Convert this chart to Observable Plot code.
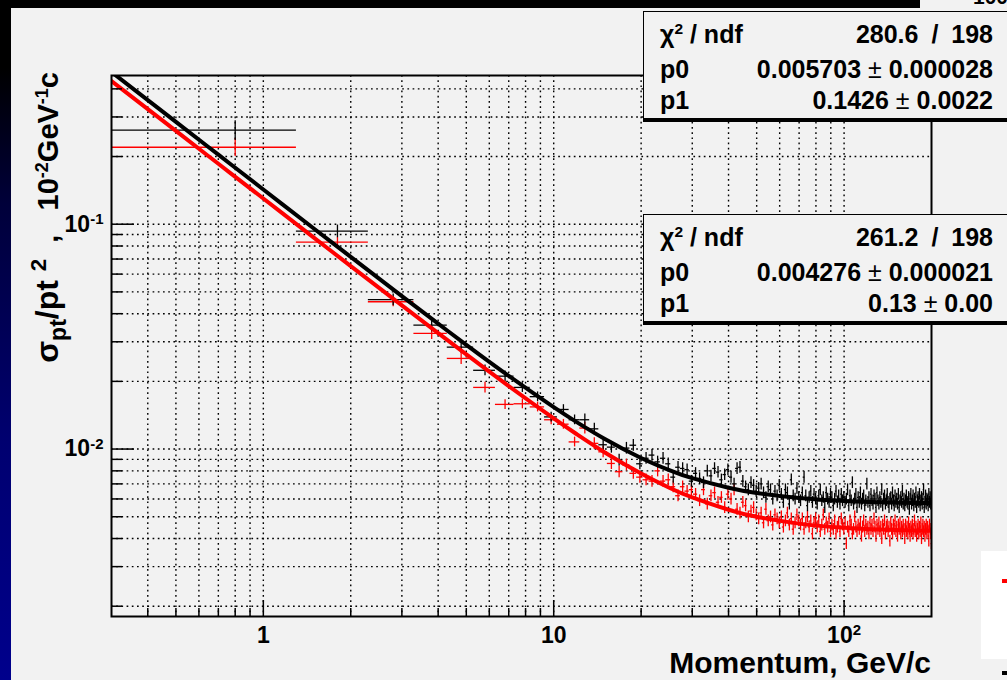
<!DOCTYPE html>
<html><head><meta charset="utf-8">
<script src="https://cdn.jsdelivr.net/npm/d3@7"></script>
<script src="https://cdn.jsdelivr.net/npm/@observablehq/plot@0.6"></script>
<style>
html,body{margin:0;padding:0;}
body{width:1007px;height:680px;overflow:hidden;position:relative;background:#f2f2f2;font-family:"Liberation Sans",Arial,Helvetica,sans-serif;font-weight:bold;color:#000;}
#leftbar{position:absolute;left:0;top:0;width:11px;height:680px;background:linear-gradient(#000 0%,#000 10%,#00003a 30%,#000070 65%,#00008c 100%);}
#topbar{position:absolute;left:0;top:0;width:920px;height:8px;background:#000;}
#cut{position:absolute;left:973px;top:-14px;font-size:21px;line-height:21px;}
#chart{position:absolute;left:0;top:0;}
#chart svg text.lbl{font-size:23px !important;font-weight:bold !important;font-family:"Liberation Sans",Arial,sans-serif !important;fill:#000;}
#chart svg text.lbl tspan{font-size:15px !important;}
.stat{position:absolute;left:643px;width:420px;background:#f2f2f2;border:1px solid #000;box-shadow:0 3px 0 #000;}
.stat .lab{position:absolute;left:16px;font-size:25px;line-height:25px;white-space:nowrap;}
.stat .val{position:absolute;left:0;width:349px;text-align:right;font-size:25px;line-height:25px;white-space:nowrap;}
.pm{font-weight:normal;}
.sl{word-spacing:6px;}
sup{font-size:62%;vertical-align:0.55em;line-height:0;}
sub{font-size:72%;vertical-align:-0.35em;line-height:0;}
#xtitle{position:absolute;right:76px;top:652px;font-size:30px;line-height:22px;white-space:nowrap;}
#ytitle{position:absolute;left:30px;top:72px;font-size:29px;line-height:34px;white-space:nowrap;transform-origin:0 0;transform:rotate(-90deg) translateX(-100%);}
#ytitle .big sup{font-size:70%;}
#legendbox{position:absolute;left:981px;top:551px;width:40px;height:108px;background:#fff;}
#legred{position:absolute;left:1002px;top:579px;width:10px;height:4px;background:#f00;}
#legblack{position:absolute;left:1002px;top:671px;width:10px;height:4px;background:#000;}
</style>
</head><body>
<div id="leftbar"></div>
<div id="topbar"></div>
<div id="cut">100</div>
<div id="legendbox"></div>
<div id="legred"></div>
<div id="legblack"></div>
<div id="chart"></div>

<div class="stat" style="top:11px;height:106px;">
  <div class="lab" style="top:10px;">&chi;<sup>2</sup> / ndf</div>
  <div class="val sl" style="top:10px;">280.6 / 198</div>
  <div class="lab" style="top:45px;">p0</div>
  <div class="val" style="top:45px;">0.005703<span class="pm"> &plusmn; </span>0.000028</div>
  <div class="lab" style="top:76px;">p1</div>
  <div class="val" style="top:76px;">0.1426<span class="pm"> &plusmn; </span>0.0022</div>
</div>
<div class="stat" style="top:214px;height:106px;">
  <div class="lab" style="top:10px;">&chi;<sup>2</sup> / ndf</div>
  <div class="val sl" style="top:10px;">261.2 / 198</div>
  <div class="lab" style="top:45px;">p0</div>
  <div class="val" style="top:45px;">0.004276<span class="pm"> &plusmn; </span>0.000021</div>
  <div class="lab" style="top:76px;">p1</div>
  <div class="val" style="top:76px;">0.13<span class="pm"> &plusmn; </span>0.00</div>
</div>

<div id="xtitle">Momentum, GeV/c</div>
<div id="ytitle"><span class="big" style="font-size:32px;">&sigma;<sub>pt</sub>/pt <sup>2</sup></span>&nbsp;&nbsp;,&nbsp;&nbsp;&nbsp;10<sup>-2</sup>GeV<sup>-1</sup>c</div>

<script>
// ---- histogram binning (1 GeV/c bins) ----
const binStart = 0.3;
const binWidth = 1.0;

// ---- black histogram: sigma_pt/pt^2 per bin (bin centres 0.8 ... 199.8) ----
const blackValues = [
  0.262, 0.0931, 0.0462, 0.0356, 0.0284, 0.0224, 0.0211, 0.0188, 0.0171, 0.0139,
  0.0150, 0.0135, 0.0135, 0.0123, 0.01045, 0.0102, 0.00895, 0.0101, 0.0104, 0.0086,
  0.0091, 0.0094, 0.00877, 0.0091, 0.0086, 0.0075, 0.0083, 0.0082, 0.0081, 0.0072,
  0.0078, 0.0074, 0.0071, 0.0080, 0.0076, 0.0082, 0.0079, 0.0073, 0.0077, 0.0081,
  0.0075, 0.0070, 0.0082, 0.0083, 0.0072, 0.0068, 0.0066, 0.0071, 0.0069, 0.0065,
  0.0067, 0.0070, 0.0064, 0.0061, 0.0068, 0.0066, 0.0060, 0.0065, 0.0062, 0.0069,
  0.0063, 0.0058, 0.0066, 0.0064, 0.0057, 0.0073, 0.0062, 0.0060, 0.0067, 0.0061,
  0.0059, 0.0064, 0.0075, 0.0062, 0.0056, 0.0061, 0.0065, 0.0058, 0.0063, 0.0060,
  0.0057, 0.0062, 0.0066, 0.0059, 0.0061, 0.0055, 0.0064, 0.0060, 0.0058, 0.0063,
  0.0061, 0.0056, 0.0060, 0.0065, 0.0058, 0.0062, 0.0057, 0.0063, 0.0059, 0.0061,
  0.0058, 0.0060, 0.0066, 0.0056, 0.0062, 0.0059, 0.0071, 0.0057, 0.0060, 0.0063,
  0.0055, 0.0061, 0.0058, 0.0064, 0.0057, 0.0060, 0.0062, 0.0056, 0.0059, 0.0070,
  0.0058, 0.0061, 0.0056, 0.0063, 0.0059, 0.0057, 0.0062, 0.0060, 0.0055, 0.0064,
  0.0059, 0.0057, 0.0061, 0.0058, 0.0066, 0.0056, 0.0060, 0.0062, 0.0057, 0.0059,
  0.0063, 0.0058, 0.0055, 0.0060, 0.0061, 0.0057, 0.0064, 0.0059, 0.0056, 0.0062,
  0.0058, 0.0060, 0.0057, 0.0063, 0.0055, 0.0059, 0.0061, 0.0058, 0.0065, 0.0057,
  0.0060, 0.0056, 0.0059, 0.0062, 0.0058, 0.0057, 0.0061, 0.0054, 0.0060, 0.0063,
  0.0057, 0.0059, 0.0062, 0.0056, 0.0060, 0.0058, 0.0064, 0.0055, 0.0059, 0.0061,
  0.0058, 0.0063, 0.0056, 0.0059, 0.0061, 0.0057, 0.0060, 0.0066, 0.0055, 0.0058,
  0.0062, 0.0057, 0.0060, 0.0059, 0.0056, 0.0063, 0.0058, 0.0061, 0.0057, 0.0060
];

// ---- red histogram ----
const redValues = [
  0.220, 0.0832, 0.0452, 0.0327, 0.0253, 0.0188, 0.0158, 0.0159, 0.0154, 0.0135,
  0.0129, 0.01076, 0.0124, 0.0106, 0.00972, 0.00863, 0.00793, 0.0085, 0.0078, 0.0075,
  0.0073, 0.0072, 0.0080, 0.0072, 0.0073, 0.0068, 0.0062, 0.0068, 0.0065, 0.0066,
  0.0063, 0.0059, 0.0066, 0.0057, 0.0062, 0.0064, 0.0058, 0.0061, 0.0055, 0.0063,
  0.0060, 0.0066, 0.0054, 0.0052, 0.0058, 0.0056, 0.0050, 0.0053, 0.0055, 0.0051,
  0.0049, 0.0052, 0.0047, 0.0054, 0.0048, 0.0050, 0.0046, 0.0051, 0.0049, 0.0047,
  0.0050, 0.0045, 0.0048, 0.0052, 0.0046, 0.0049, 0.0044, 0.0047, 0.0051, 0.0048,
  0.0046, 0.0049, 0.0044, 0.0047, 0.0050, 0.0045, 0.0048, 0.0042, 0.0047, 0.0049,
  0.0045, 0.0048, 0.0043, 0.0046, 0.0051, 0.0044, 0.0047, 0.0045, 0.0049, 0.0043,
  0.0046, 0.0044, 0.0048, 0.0042, 0.0045, 0.0047, 0.0043, 0.0049, 0.0046, 0.0044,
  0.0047, 0.0038, 0.0045, 0.0043, 0.0048, 0.0046, 0.0042, 0.0044, 0.0050, 0.0045,
  0.0043, 0.0046, 0.0044, 0.0047, 0.0041, 0.0045, 0.0048, 0.0043, 0.0046, 0.0044,
  0.0045, 0.0042, 0.0047, 0.0044, 0.0046, 0.0043, 0.0049, 0.0045, 0.0041, 0.0046,
  0.0044, 0.0047, 0.0043, 0.0045, 0.0040, 0.0046, 0.0044, 0.0048, 0.0042, 0.0045,
  0.0046, 0.0043, 0.0045, 0.0039, 0.0047, 0.0044, 0.0042, 0.0046, 0.0044, 0.0048,
  0.0043, 0.0045, 0.0041, 0.0046, 0.0044, 0.0047, 0.0042, 0.0045, 0.0043, 0.0046,
  0.0044, 0.0040, 0.0046, 0.0043, 0.0045, 0.0042, 0.0047, 0.0044, 0.0041, 0.0045,
  0.0043, 0.0046, 0.0042, 0.0044, 0.0048, 0.0043, 0.0045, 0.0041, 0.0044, 0.0046,
  0.0042, 0.0045, 0.0043, 0.0047, 0.0040, 0.0044, 0.0046, 0.0043, 0.0045, 0.0041,
  0.0044, 0.0046, 0.0042, 0.0045, 0.0043, 0.0039, 0.0046, 0.0044, 0.0042, 0.0038
];

// ---- relative errors (first bins read individually, then a common level) ----
const blackRelErrFirst = [0.10, 0.065, 0.06, 0.065, 0.06, 0.055, 0.055, 0.05, 0.05, 0.05, 0.05, 0.05];
const blackRelErrRest = 0.06;
const redRelErrFirst = [0.09, 0.05, 0.05, 0.06, 0.06, 0.055, 0.05, 0.05, 0.05, 0.05, 0.05, 0.05];
const redRelErrRest = 0.06;

// ---- fit curves ----
const fitMomentum = [0.3, 0.4, 0.5, 0.7, 1, 1.5, 2, 3, 4, 5, 7, 10, 12, 15, 20, 25, 30, 40, 50, 70, 100, 150, 200];
const fitBlack = [0.4753, 0.3565, 0.2853, 0.2038, 0.1427, 0.09524, 0.07153, 0.04787, 0.0361, 0.02908, 0.02116, 0.01536, 0.01318, 0.01109, 0.00913, 0.00806, 0.00742, 0.00673, 0.00638, 0.00606, 0.00588, 0.00578, 0.00575];
const fitRed = [0.4333, 0.325, 0.26, 0.1857, 0.1301, 0.08677, 0.06514, 0.04355, 0.03278, 0.02635, 0.01906, 0.01369, 0.01165, 0.00966, 0.00778, 0.00673, 0.00609, 0.00537, 0.005, 0.00466, 0.00447, 0.00436, 0.00433];

// ---- axes ----
const xDomain = [0.3, 200];
const yDomain = [0.0018, 0.4586];
const xMajorTicks = [1, 10, 100];
const xMajorLabels = ["1", "10", "10^2"];
const xMinorTicks = [0.4,0.5,0.6,0.7,0.8,0.9,2,3,4,5,6,7,8,9,20,30,40,50,60,70,80,90];
const yMajorTicks = [0.01, 0.1];
const yMajorLabels = ["10^-2", "10^-1"];
const yMinorTicks = [0.002,0.003,0.004,0.005,0.006,0.007,0.008,0.009,0.02,0.03,0.04,0.05,0.06,0.07,0.08,0.09,0.2,0.3,0.4];

function makeBins(values, errFirst, errRest) {
  return values.map((v, i) => {
    const lo = binStart + i * binWidth;
    const hi = lo + binWidth;
    const e = i < errFirst.length ? errFirst[i] : errRest;
    return {lo, hi, p: (lo + hi) / 2, v, vlo: v * (1 - e), vhi: v * (1 + e)};
  });
}
const blackBins = makeBins(blackValues, blackRelErrFirst, blackRelErrRest);
const redBins = makeBins(redValues, redRelErrFirst, redRelErrRest);
const blackFit = fitMomentum.map((p, i) => ({p, v: fitBlack[i]}));
const redFit = fitMomentum.map((p, i) => ({p, v: fitRed[i]}));

const grid = {stroke: "#000", strokeOpacity: 1, strokeWidth: 1.4, strokeDasharray: "1.7,3.5"};
const allX = [...xMinorTicks, ...xMajorTicks];
const allY = [...yMinorTicks, ...yMajorTicks];

const chart = Plot.plot({
  width: 1007,
  height: 680,
  marginLeft: 111,
  marginRight: 76,
  marginTop: 75,
  marginBottom: 64,
  style: {background: "transparent", fontFamily: "'Liberation Sans', Arial, sans-serif", color: "#000"},
  x: {type: "log", domain: xDomain},
  y: {type: "log", domain: yDomain},
  marks: [
    Plot.gridX({ticks: allX, ...grid}),
    Plot.gridY({ticks: allY, ...grid}),
    Plot.ruleY(redBins, {y: "v", x1: "lo", x2: "hi", stroke: "#ff0000", strokeWidth: 1.3, clip: true}),
    Plot.ruleX(redBins, {x: "p", y1: "vlo", y2: "vhi", stroke: "#ff0000", strokeWidth: 1.3, clip: true}),
    Plot.ruleY(blackBins, {y: "v", x1: "lo", x2: "hi", stroke: "#000", strokeWidth: 1.3, clip: true}),
    Plot.ruleX(blackBins, {x: "p", y1: "vlo", y2: "vhi", stroke: "#000", strokeWidth: 1.3, clip: true}),
    Plot.line(redFit, {x: "p", y: "v", stroke: "#ff0000", strokeWidth: 4, curve: "natural", clip: true}),
    Plot.line(blackFit, {x: "p", y: "v", stroke: "#000", strokeWidth: 4, curve: "natural", clip: true}),
    Plot.axisX({ticks: xMinorTicks, tickSize: -8, tickFormat: () => "", label: null, stroke: "#000", strokeWidth: 1.5}),
    Plot.axisX({ticks: xMajorTicks, tickSize: -16, tickFormat: () => "", label: null, stroke: "#000", strokeWidth: 1.5}),
    Plot.axisY({ticks: yMinorTicks, tickSize: -11, tickFormat: () => "", label: null, stroke: "#000", strokeWidth: 1.5}),
    Plot.axisY({ticks: yMajorTicks, tickSize: -23, tickFormat: () => "", label: null, stroke: "#000", strokeWidth: 1.5}),
    Plot.axisX({ticks: xMajorTicks, tickSize: 0, tickPadding: 10, label: null,
      tickFormat: d => xMajorLabels[xMajorTicks.indexOf(d)]}),
    Plot.axisY({ticks: yMajorTicks, tickSize: 0, tickPadding: 8, label: null,
      tickFormat: d => yMajorLabels[yMajorTicks.indexOf(d)]}),
    Plot.frame({stroke: "#000", strokeWidth: 2})
  ]
});
document.getElementById("chart").appendChild(chart);

// bold, larger tick labels with real superscript exponents
chart.querySelectorAll("text").forEach(node => {
  const s = node.textContent;
  if (!s) return;
  node.setAttribute("class", "lbl");
  node.setAttribute("font-size", "23");
  node.setAttribute("font-weight", "bold");
  node.parentNode.setAttribute("font-size", "23");
  if (s.includes("^")) {
    const [base, exp] = s.split("^");
    node.textContent = base;
    const ts = document.createElementNS("http://www.w3.org/2000/svg", "tspan");
    ts.setAttribute("dy", "-0.5em");
    ts.setAttribute("font-size", "15");
    ts.textContent = exp;
    node.appendChild(ts);
  }
});
</script>
</body></html>
